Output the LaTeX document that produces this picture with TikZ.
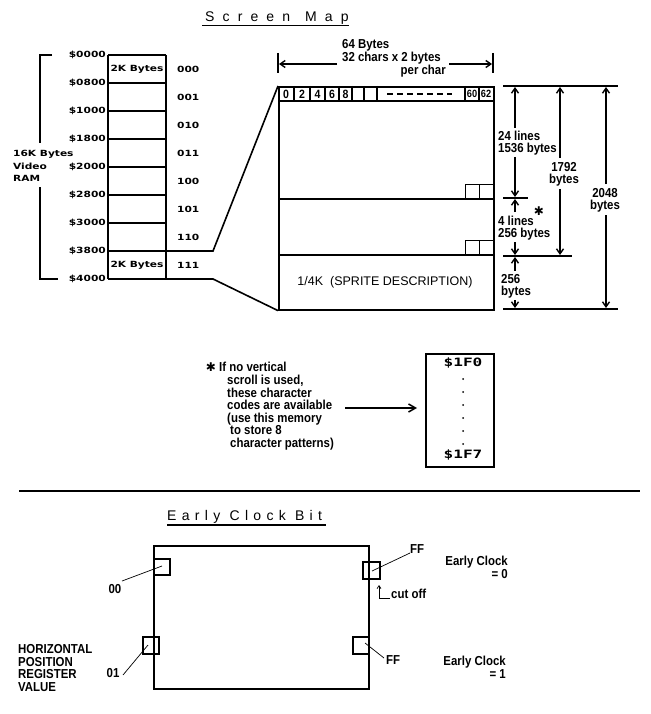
\documentclass[tikz,border=0pt]{standalone}
\usepackage{fontspec}
\setmainfont{Liberation Sans}
\newfontfamily\narfont{Liberation Sans}[FakeStretch=0.88]
\newfontfamily\bmpfont{DejaVu Sans Bold}[FakeStretch=1.25]
\newfontfamily\mymono{DejaVu Sans Mono Bold}[FakeStretch=1.4]
\newfontfamily\ttlA{Liberation Sans}[LetterSpace=58]
\newfontfamily\ttlB{Liberation Sans}[LetterSpace=38]
\newfontfamily\symf{DejaVu Sans Bold}
\usetikzlibrary{arrows.meta}
\begin{document}
\begin{tikzpicture}[x=1pt,y=-1pt,
  thk/.style={line width=1.6pt},
  thn/.style={line width=0.7pt},
  lab/.style={font=\narfont\fontsize{13}{14}\selectfont\bfseries, inner sep=0pt},
  hdr/.style={font=\narfont\fontsize{12}{13}\selectfont\bfseries, inner sep=0pt},
  bmp/.style={font=\bmpfont\fontsize{8.5}{12}\selectfont, inner sep=0pt},
  ast/.style={font=\symf\fontsize{12}{12}\selectfont, inner sep=0pt},
  dim/.style={thk, -{Straight Barb[length=5pt,width=7pt,line width=1.4pt]}},
  bigarr/.style={thk, -{Straight Barb[length=7pt,width=8pt,line width=1.5pt]}},
  smallarr/.style={thn, -{Straight Barb[length=3pt,width=4pt,line width=0.7pt]}},
]
\useasboundingbox (0,0) rectangle (650,714);

% ---------- title ----------
\node[font=\ttlA\fontsize{14}{15}\selectfont, inner sep=0, anchor=base west] (tScreen) at (205,21.5) {Screen};
\node[font=\ttlA\fontsize{14}{15}\selectfont, inner sep=0, anchor=base west] (tMap) at (305,21.5) {Map};
\draw[line width=1.4pt] (202,25.5) -- (349,25.5);

% ---------- memory map ----------
\foreach \y in {55,83,...,279} \draw[thk] (108,\y) -- (166,\y);
\draw[thk] (108,55) -- (108,279);
\draw[thk] (166,55) -- (166,279);
\foreach \y/\t in {55/0000,83/0800,111/1000,139/1800,167/2000,195/2800,223/3000,251/3800,279/4000}
  \node[bmp, anchor=east] (adr\t) at (106,\y) {\$\t};
\foreach \i/\t in {0/000,1/001,2/010,3/011,4/100,5/101,6/110,7/111}
  \node[bmp, anchor=west] (code\t) at (177,69+28*\i) {\t};
\node[bmp] (kb0) at (137,69) {2K Bytes};
\node[bmp] (kb7) at (137,265) {2K Bytes};
% bracket
\draw[thk] (52,55) -- (40,55) -- (40,143);
\draw[thk] (40,187) -- (40,279) -- (58,279);
\node[bmp, anchor=west] (vr1) at (13,154) {16K Bytes};
\node[bmp, anchor=west] (vr2) at (13,166) {Video};
\node[bmp, anchor=west] (vr3) at (13,178) {RAM};

% ---------- screen box ----------
\node[draw, thk, minimum width=215pt, minimum height=223pt, anchor=north west, inner sep=0] (scr) at (278,86) {};
\draw[thk] (166,251) -- (213,251) -- (scr.north west);
\draw[thk] (166,279) -- (213,279) -- (scr.south west);
\draw[thk] (278,101) -- (493,101);
\foreach \x in {294,310,325,339,352,364,377,465,479} \draw[line width=1.2pt] (\x,86) -- (\x,101);
\foreach \x/\t in {286/0,302/2,317.5/4,332/6,345.5/8} \node[hdr] (h\t) at (\x,94) {\t};
\node[lab, font=\narfont\fontsize{10.5}{11}\selectfont\bfseries] (h60) at (472,94) {60};
\node[lab, font=\narfont\fontsize{10.5}{11}\selectfont\bfseries] (h62) at (486,94) {62};
\draw[line width=1.6pt, dash pattern=on 5.5pt off 4.5pt] (387,94) -- (452,94);
\draw[thk] (278,199) -- (493,199);
\draw[thk] (278,255) -- (493,255);
\draw[thn] (465,199) -- (465,184) -- (493,184);
\draw[thn] (479,184) -- (479,199);
\draw[thn] (465,255) -- (465,240) -- (493,240);
\draw[thn] (479,240) -- (479,255);
\node[font=\fontsize{12.5}{14}\selectfont, inner sep=0] (sprite) at (385,282) {1/4K\ \ (SPRITE DESCRIPTION)};

% ---------- 64 bytes ----------
\draw[thk] (278,53) -- (278,73);
\draw[thk] (493,53) -- (493,73);
\node[lab, anchor=west] (b64) at (342,45) {64 Bytes};
\node[lab, anchor=west] (b32) at (342,58) {32 chars x 2 bytes};
\node[lab, anchor=east] (bpc) at (446,71) {per char};
\draw[dim] (337,64) -- (279,64);
\draw[dim] (449,64) -- (492,64);

% ---------- right dimensions ----------
\draw[thk] (503,86) -- (618,86);
\draw[thk] (503,198) -- (528,198);
\draw[thk] (503,256) -- (572,256);
\draw[thk] (503,309) -- (618,309);
\node[lab, anchor=west] (d24a) at (498,136) {24 lines};
\node[lab, anchor=west] (d24b) at (498,149) {1536 bytes};
\draw[dim] (515,128) -- (515,87);
\draw[dim] (515,157) -- (515,197);
\node[lab, anchor=west] (d4a) at (498,221) {4 lines};
\node[lab, anchor=west] (d4b) at (498,234) {256 bytes};
\draw[dim] (515,212) -- (515,199);
\draw[dim] (515,242) -- (515,255);
\node[ast] (ast1) at (539,211) {✱};
\node[lab, anchor=west] (d256a) at (501,279) {256};
\node[lab, anchor=west] (d256b) at (501,292) {bytes};
\draw[dim] (515,271) -- (515,257);
\draw[dim] (515,300) -- (515,308);
\node[lab] (d17a) at (564,167) {1792};
\node[lab] (d17b) at (564,180) {bytes};
\draw[dim] (560,158) -- (560,87);
\draw[dim] (560,189) -- (560,255);
\node[lab] (d20a) at (605,193) {2048};
\node[lab] (d20b) at (605,206) {bytes};
\draw[dim] (606,184) -- (606,87);
\draw[dim] (606,215) -- (606,308);

% ---------- note ----------
\node[ast] (ast2) at (211,367) {✱};
\node[lab, font=\narfont\fontsize{13}{12.6}\selectfont\bfseries, align=left, anchor=north west] (note) at (227,362.3)
  {\hspace*{-8pt}If no vertical\\
   scroll is used,\\
   these character\\
   codes are available\\
   (use this memory\\
   \hspace*{3pt}to store 8\\
   \hspace*{3pt}character patterns)};
\node[draw, thk, minimum width=68pt, minimum height=113pt, anchor=north west, inner sep=0] (cbox) at (425,353) {};
\node[font=\mymono\fontsize{11.5}{12}\selectfont, inner sep=0] (f0) at (463,363) {\$1F0};
\node[font=\mymono\fontsize{11.5}{12}\selectfont, inner sep=0] (f7) at (463,455) {\$1F7};
\foreach \y in {379,392,405,418,431,444} \fill (463,\y) circle (1pt);
\coordinate (aS) at (345,408);
\coordinate (aE) at (417,408);
\draw[bigarr] (aS) -- (aE);

% ---------- separator ----------
\draw[line width=2.4pt] (19,491) -- (640,491);

% ---------- early clock bit ----------
\node[font=\ttlB\fontsize{14}{15}\selectfont, inner sep=0, anchor=base west] (tEarly) at (167,520) {Early Clock Bit};
\draw[line width=1.6pt] (167,525) -- (326,525);
\draw[thk] (154,546) rectangle (369,689);
\draw[thk] (154,559) rectangle (170,575);
\draw[thk] (363,562) rectangle (380,579);
\draw[thk] (143,637) rectangle (159,654);
\draw[thk] (353,637) rectangle (369,654);
\node[lab] (l00) at (115,589) {00};
\node[lab] (l01) at (113,673) {01};
\node[lab] (lff1) at (417,549) {FF};
\node[lab] (lff2) at (393,660) {FF};
\draw[thn] (122,581) -- (162,566);
\draw[thn] (123,675) -- (148,645);
\draw[thn] (372,571) -- (410,553);
\draw[thn] (365,643) -- (384,658);
\draw[smallarr] (390,598) -- (379,598) -- (379,585);
\node[lab, anchor=west] (cut) at (391,594) {cut off};
\node[lab, anchor=east] (ec0a) at (508,562) {Early Clock};
\node[lab, anchor=east] (ec0b) at (508,574) {= 0};
\node[lab, anchor=east] (ec1a) at (506,662) {Early Clock};
\node[lab, anchor=east] (ec1b) at (506,674) {= 1};
\node[lab, anchor=west] (hp1) at (18,649) {HORIZONTAL};
\node[lab, anchor=west] (hp2) at (18,662) {POSITION};
\node[lab, anchor=west] (hp3) at (18,674) {REGISTER};
\node[lab, anchor=west] (hp4) at (18,687) {VALUE};
\end{tikzpicture}
\end{document}
